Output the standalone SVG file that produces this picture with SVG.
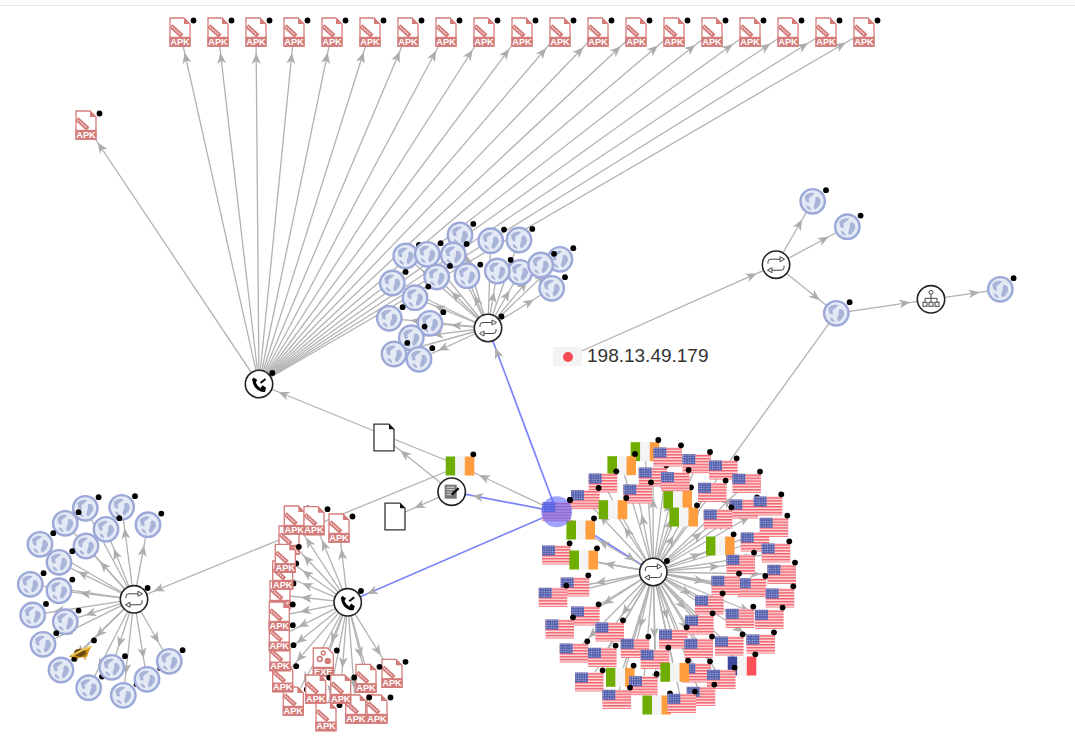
<svg xmlns="http://www.w3.org/2000/svg" width="1075" height="755" viewBox="0 0 1075 755">
<style>
text{font-family:"Liberation Sans",Arial,sans-serif}
.t{font-size:9.2px;font-weight:700;fill:#fff;text-anchor:middle}
.dot{fill:#000}
.ring{fill:#fff;stroke:#222;stroke-width:1.6}
.ic{fill:none;stroke:#444;stroke-width:1}
#edges path{fill:none;stroke:#b2b2b2;stroke-width:1.3;marker-end:url(#ah)}
#edges path.b{stroke:#7a84fa;stroke-width:1.7}
#edges path.n{marker-end:none}
</style>
<defs>
<filter id="soft" x="-20%" y="-20%" width="140%" height="140%"><feGaussianBlur stdDeviation=".45"/></filter>
<marker id="ah" markerUnits="userSpaceOnUse" markerWidth="12" markerHeight="10" refX="21" refY="0" orient="auto" overflow="visible"><path d="M0 0L-11 -4.5 -8 0 -11 4.5Z" fill="#adadad"/></marker>
<pattern id="stripes" width="4" height="2.9" patternUnits="userSpaceOnUse"><rect width="4" height="2.9" fill="#fbdfe1"/><rect width="4" height="1.5" fill="#f4606b"/></pattern>
<pattern id="stars" width="2.4" height="2.4" patternUnits="userSpaceOnUse"><rect width="2.4" height="2.4" fill="#5560ad"/><circle cx="1.2" cy="1.2" r=".65" fill="#b6bce2"/></pattern>
<g id="apk"><path d="M-10 -14H4L10 -8V14H-10Z" fill="#fff" stroke="#d47c7a" stroke-width="1.3"/><path d="M4 -14V-8H10Z" fill="#d47c7a"/><rect x="-10.6" y="4.8" width="21.2" height="9.9" fill="#d47c7a"/><path d="M-9 -6L2 4" stroke="#d47c7a" stroke-width="4.5" fill="none"/><path d="M-8 -5L1 3" stroke="#fff" stroke-width="1.1" stroke-dasharray="1.3 1.1" fill="none"/><circle class="dot" cx="13.5" cy="-11.5" r="2.9"/></g>
<g id="exe"><path d="M-10 -14H4L10 -8V14H-10Z" fill="#fff" stroke="#d47c7a" stroke-width="1.3"/><rect x="-10.6" y="4.8" width="21.2" height="9.9" fill="#d47c7a"/><circle cx="-3.5" cy="-3" r="2.4" fill="none" stroke="#d47c7a" stroke-width="1.6"/><circle cx="4.5" cy="-1" r="3.2" fill="#d47c7a"/><circle cx="0" cy="-9" r="2" fill="none" stroke="#d47c7a" stroke-width="1.4"/><circle class="dot" cx="13.5" cy="-11.5" r="2.9"/></g>
<g id="globe"><g filter="url(#soft)"><circle r="12.2" fill="#e4e9f6" stroke="#9ca8d8" stroke-width="2.4"/><path d="M-8 -5C-5 -9 0 -9 2 -8 0 -5 -3 -5 -4 -2 -2 2 -5 2 -7 0ZM3 -4C6 -5 8 -3 8 1 7 3 6 6 3 8 0 8 1 4 2 2 3 0 2 -2 3 -4ZM-6 4C-3 5 -1 8 -2 9 -5 8 -7 6 -6 4Z" fill="#a8b5d8"/></g><circle class="dot" cx="13.3" cy="-11.1" r="2.9"/></g>
<g id="us"><rect x="-14.3" y="-9.5" width="28.6" height="19" fill="url(#stripes)"/><rect x="-14.3" y="-9.5" width="13" height="10" fill="url(#stars)"/><circle class="dot" cx="13.3" cy="-11.7" r="2.9"/></g>
<g id="ie"><rect x="-14.3" y="-9.5" width="9.6" height="19" fill="#6fae00"/><rect x="-4.7" y="-9.5" width="9.5" height="19" fill="#f4f4f4"/><rect x="4.8" y="-9.5" width="9.5" height="19" fill="#ff9d3f"/><circle class="dot" cx="13.3" cy="-11.7" r="2.9"/></g>
<g id="fr"><rect x="-14.3" y="-9.5" width="9.6" height="19" fill="#3f4a9e"/><rect x="-4.7" y="-9.5" width="9.5" height="19" fill="#f4f4f4"/><rect x="4.8" y="-9.5" width="9.5" height="19" fill="#ff4f59"/><circle class="dot" cx="13.3" cy="-11.7" r="2.9"/></g>
<g id="sw"><circle class="ring" r="13.7"/><path class="ic" d="M-8 -1V-3Q-8 -5.5 -5 -5.5H4M8 1V3Q8 5.5 5 5.5H-4"/><path d="M4 -8L8.5 -5.5 4 -3ZM-4 8L-8.5 5.5 -4 3Z" fill="#fff" stroke="#444"/></g>
<g id="ph"><circle class="ring" r="13.7"/><path d="M-5 -4C-5 1.5 -0.5 6.5 5 6.5" fill="none" stroke="#000" stroke-width="3" stroke-linecap="round"/><path d="M-6.2 -5.2L-2.6 -2.6M2.6 2.6L6.4 5.4" stroke="#000" stroke-width="3.2" fill="none"/><path d="M1.5 -1L6.5 -5" stroke="#000" stroke-width="2"/></g>
<g id="note"><circle class="ring" r="13.7"/><rect x="-7" y="-7" width="12" height="14" fill="#777"/><path d="M-5 -4.5H3M-5 -2H3M-5 .5H1M-5 3H0" stroke="#ddd" stroke-width="1"/><path d="M0 3L7 -3.5" stroke="#111" stroke-width="2.4"/></g>
<g id="org"><circle class="ring" r="13.7"/><path class="ic" d="M0 -5V-1M-6 3V-1H6V3M0 -1V3"/><circle class="ic" cy="-7" r="2"/><rect class="ic" x="-8" y="3" width="4" height="4"/><rect class="ic" x="-2" y="3" width="4" height="4"/><rect class="ic" x="4" y="3" width="4" height="4"/></g>
<g id="doc"><path d="M-10 -13.3H5L10 -8.3V13.3H-10Z" fill="#fff" stroke="#333" stroke-width="1.3"/><path d="M5 -13.3V-8.3H10Z" fill="#111"/></g>
</defs>
<rect width="1075" height="755" fill="#fff"/>
<path d="M0 5.5H1075" stroke="#e8e8e8" stroke-width="1.2"/>
<g id="edges">
<path d="M259 384L86 125"/><path d="M259 384L180 32"/><path d="M259 384L218 32"/><path d="M259 384L256 32"/><path d="M259 384L294 32"/><path d="M259 384L332 32"/><path d="M259 384L370 32"/><path d="M259 384L408 32"/><path d="M259 384L446 32"/><path d="M259 384L484 32"/><path d="M259 384L522 32"/><path d="M259 384L560 32"/><path d="M259 384L598 32"/><path d="M259 384L636 32"/><path d="M259 384L674 32"/><path d="M259 384L712 32"/><path d="M259 384L750 32"/><path d="M259 384L788 32"/><path d="M259 384L826 32"/><path d="M259 384L864 32"/>
<path d="M488 328L460 235"/><path d="M488 328L490.7 240.7"/><path d="M488 328L519 240"/><path d="M488 328L405.7 256"/><path d="M488 328L427.3 254.3"/><path d="M488 328L453.3 255"/><path d="M488 328L560 259.3"/><path d="M488 328L540.7 265"/><path d="M488 328L497.3 271"/><path d="M488 328L520 272.3"/><path d="M488 328L436.7 277"/><path d="M488 328L467 275.7"/><path d="M488 328L392.3 283"/><path d="M488 328L551.7 288.3"/><path d="M488 328L415 297.7"/><path d="M488 328L389.3 318.3"/><path d="M488 328L430 323.3"/><path d="M488 328L411.3 337.7"/><path d="M488 328L394 354"/><path d="M488 328L419 359.3"/>
<path d="M568 357L776 265"/><path d="M776 265L812.7 201.3"/><path d="M776 265L847.3 226.7"/><path d="M776 265L836.3 313.3"/><path d="M836.3 313.3L931 299.3"/><path d="M931 299.3L1000.3 289.3"/><path class="n" d="M723.3 470L836.3 313.3"/>
<path class="b" d="M556.7 511.7L488 328"/><path class="b" d="M556.7 511.7L451.7 491.7"/><path class="b" d="M556.7 511.7L347.7 602.3"/><path class="b" d="M556.7 511.7L653.3 572"/><path d="M556.7 511.7L460 466"/>
<path d="M460 466L259 384"/><path d="M460 466L134 599.3"/><path d="M451.7 491.7L384 437.5"/><path d="M451.7 491.7L395 516.5"/>
<path d="M347.7 602.3L294.3 520"/><path d="M347.7 602.3L314 520.7"/><path d="M347.7 602.3L339 528"/><path d="M347.7 602.3L289 540"/><path d="M347.7 602.3L285.3 558.3"/><path d="M347.7 602.3L282.7 575"/><path d="M347.7 602.3L280 595"/><path d="M347.7 602.3L279.3 616"/><path d="M347.7 602.3L279.3 636.7"/><path d="M347.7 602.3L280 656.7"/><path d="M347.7 602.3L282.7 677.7"/><path d="M347.7 602.3L293.3 701"/><path d="M347.7 602.3L323.3 662"/><path d="M347.7 602.3L315.7 689"/><path d="M347.7 602.3L340.7 689"/><path d="M347.7 602.3L326 716.7"/><path d="M347.7 602.3L366 678.3"/><path d="M347.7 602.3L392 673.3"/><path d="M347.7 602.3L355.7 709"/><path d="M347.7 602.3L377 709"/>
<path d="M134 599.3L85.3 508.3"/><path d="M134 599.3L121.7 507.3"/><path d="M134 599.3L148 524.7"/><path d="M134 599.3L65.3 523.3"/><path d="M134 599.3L106 529.3"/><path d="M134 599.3L40 544.3"/><path d="M134 599.3L86 546"/><path d="M134 599.3L59 562.3"/><path d="M134 599.3L30.3 584.3"/><path d="M134 599.3L59 590.7"/><path d="M134 599.3L32.7 615"/><path d="M134 599.3L65.3 621.7"/><path d="M134 599.3L43 644.3"/><path d="M134 599.3L61 670"/><path d="M134 599.3L81 651.7"/><path d="M134 599.3L88.7 687.7"/><path d="M134 599.3L111.7 667.3"/><path d="M134 599.3L123.3 695.3"/><path d="M134 599.3L147 679.3"/><path d="M134 599.3L169.3 661.3"/>
<path d="M653.3 572L667.7 457"/><path d="M653.3 572L696.7 463.7"/><path d="M653.3 572L723.3 470"/><path d="M653.3 572L746.7 483.3"/><path d="M653.3 572L653 477"/><path d="M653.3 572L675.3 481.7"/><path d="M653.3 572L712.3 492.3"/><path d="M653.3 572L603 483"/><path d="M653.3 572L585.3 499.7"/><path d="M653.3 572L637.7 494"/><path d="M653.3 572L743.7 509"/><path d="M653.3 572L768 506"/><path d="M653.3 572L718 519"/><path d="M653.3 572L774 527.3"/><path d="M653.3 572L755 542"/><path d="M653.3 572L776 553"/><path d="M653.3 572L740.7 564.3"/><path d="M653.3 572L781.7 574.3"/><path d="M653.3 572L725.7 585.3"/><path d="M653.3 572L752 587.7"/><path d="M653.3 572L780 598"/><path d="M653.3 572L709.3 605"/><path d="M653.3 572L740 618.3"/><path d="M653.3 572L769.3 619.3"/><path d="M653.3 572L699.3 625"/><path d="M653.3 572L729.3 646"/><path d="M653.3 572L760.7 644"/><path d="M653.3 572L673.3 639"/><path d="M653.3 572L698.7 648.3"/><path d="M653.3 572L635 648.3"/><path d="M653.3 572L609.7 632"/><path d="M653.3 572L585.3 616"/><path d="M653.3 572L559.7 629"/><path d="M653.3 572L553 597.3"/><path d="M653.3 572L575 587"/><path d="M653.3 572L556.3 555"/><path d="M653.3 572L574 653"/><path d="M653.3 572L602.3 657.3"/><path d="M653.3 572L655 659.3"/><path d="M653.3 572L696.7 673"/><path d="M653.3 572L721.3 679.3"/><path d="M653.3 572L589.3 682"/><path d="M653.3 572L643.3 685.7"/><path d="M653.3 572L616.7 699.3"/><path d="M653.3 572L681.7 703.3"/><path d="M653.3 572L701 696.3"/>
<path d="M653.3 572L645 451.7"/><path d="M653.3 572L621.7 465.7"/><path d="M653.3 572L613 509.7"/><path d="M653.3 572L677.7 499"/><path d="M653.3 572L683.7 517"/><path d="M653.3 572L580.7 530"/><path d="M653.3 572L583.7 560"/><path d="M653.3 572L720.3 546"/><path d="M653.3 572L620.3 677.3"/><path d="M653.3 572L674.7 672.3"/><path d="M653.3 572L656.7 705"/><path d="M653.3 572L742 666"/>
</g>
<g id="top-apks">
<g id="a0" transform="translate(86 125)"><use href="#apk"/><text class="t" y="12.6">APK</text></g>
<g id="a1" transform="translate(180 32)"><use href="#apk"/><text class="t" y="12.6">APK</text></g>
<g id="a2" transform="translate(218 32)"><use href="#apk"/><text class="t" y="12.6">APK</text></g>
<g id="a3" transform="translate(256 32)"><use href="#apk"/><text class="t" y="12.6">APK</text></g>
<g id="a4" transform="translate(294 32)"><use href="#apk"/><text class="t" y="12.6">APK</text></g>
<g id="a5" transform="translate(332 32)"><use href="#apk"/><text class="t" y="12.6">APK</text></g>
<g id="a6" transform="translate(370 32)"><use href="#apk"/><text class="t" y="12.6">APK</text></g>
<g id="a7" transform="translate(408 32)"><use href="#apk"/><text class="t" y="12.6">APK</text></g>
<g id="a8" transform="translate(446 32)"><use href="#apk"/><text class="t" y="12.6">APK</text></g>
<g id="a9" transform="translate(484 32)"><use href="#apk"/><text class="t" y="12.6">APK</text></g>
<g id="a10" transform="translate(522 32)"><use href="#apk"/><text class="t" y="12.6">APK</text></g>
<g id="a11" transform="translate(560 32)"><use href="#apk"/><text class="t" y="12.6">APK</text></g>
<g id="a12" transform="translate(598 32)"><use href="#apk"/><text class="t" y="12.6">APK</text></g>
<g id="a13" transform="translate(636 32)"><use href="#apk"/><text class="t" y="12.6">APK</text></g>
<g id="a14" transform="translate(674 32)"><use href="#apk"/><text class="t" y="12.6">APK</text></g>
<g id="a15" transform="translate(712 32)"><use href="#apk"/><text class="t" y="12.6">APK</text></g>
<g id="a16" transform="translate(750 32)"><use href="#apk"/><text class="t" y="12.6">APK</text></g>
<g id="a17" transform="translate(788 32)"><use href="#apk"/><text class="t" y="12.6">APK</text></g>
<g id="a18" transform="translate(826 32)"><use href="#apk"/><text class="t" y="12.6">APK</text></g>
<g id="a19" transform="translate(864 32)"><use href="#apk"/><text class="t" y="12.6">APK</text></g>
</g>
<g id="phone1" transform="translate(259 384)"><use href="#ph"/><circle class="dot" cx="13.3" cy="-11" r="2.9"/></g>
<g id="gtop">
<use id="g1" href="#globe" x="460" y="235"/><use id="g2" href="#globe" x="490.7" y="240.7"/><use id="g3" href="#globe" x="519" y="240"/><use id="g7" href="#globe" x="560" y="259.3"/><use id="g6" href="#globe" x="453.3" y="255"/><use id="g4" href="#globe" x="405.7" y="256"/><use id="g5" href="#globe" x="427.3" y="254.3"/><use id="g10" href="#globe" x="520" y="272.3"/><use id="g8" href="#globe" x="540.7" y="265"/><use id="g9" href="#globe" x="497.3" y="271"/><use id="g11" href="#globe" x="436.7" y="277"/><use id="g12" href="#globe" x="467" y="275.7"/><use id="g13" href="#globe" x="392.3" y="283"/><use id="g14" href="#globe" x="551.7" y="288.3"/><use id="g15" href="#globe" x="415" y="297.7"/><use id="g16" href="#globe" x="389.3" y="318.3"/><use id="g17" href="#globe" x="430" y="323.3"/><use id="g18" href="#globe" x="411.3" y="337.7"/><use id="g19" href="#globe" x="394" y="354"/><use id="g20" href="#globe" x="419" y="359.3"/>
</g>
<g id="sw1" transform="translate(488 328)"><use href="#sw"/><circle class="dot" cx="13.5" cy="-11.5" r="2.9"/></g>
<use id="sw2" href="#sw" x="776" y="264.7"/>
<use id="ga" href="#globe" x="812.7" y="201.3"/><use id="gb" href="#globe" x="847.3" y="226.7"/><use id="gc" href="#globe" x="836.3" y="313.3"/><use id="gd" href="#globe" x="1000.3" y="289.3"/>
<use id="org1" href="#org" x="931" y="299.3"/>
<g id="ip"><rect x="553" y="347" width="29" height="19" fill="#f3f3f3"/><circle cx="568" cy="357" r="5" fill="#f54a55"/><text x="587" y="362" font-size="19" fill="#333">198.13.49.179</text></g>
<use id="doc1" href="#doc" x="384" y="437.5"/><use id="doc2" href="#doc" x="395" y="516.5"/>
<use id="ie0" href="#ie" x="460" y="466"/>
<use id="note1" href="#note" x="451.7" y="491.7"/>
<g id="gleft">
<use id="h1" href="#globe" x="85.3" y="508.3"/><use id="h2" href="#globe" x="121.7" y="507.3"/><use id="h3" href="#globe" x="148" y="524.7"/><use id="h4" href="#globe" x="65.3" y="523.3"/><use id="h5" href="#globe" x="86" y="546"/><use id="h6" href="#globe" x="106" y="529.3"/><use id="h7" href="#globe" x="40" y="544.3"/><use id="h8" href="#globe" x="59" y="562.3"/><use id="h9" href="#globe" x="30.3" y="584.3"/><use id="h10" href="#globe" x="59" y="590.7"/><use id="h11" href="#globe" x="32.7" y="615"/><use id="h12" href="#globe" x="65.3" y="621.7"/><use id="h13" href="#globe" x="43" y="644.3"/><use id="h14" href="#globe" x="61" y="670"/><use id="h15" href="#globe" x="88.7" y="687.7"/><use id="h16" href="#globe" x="111.7" y="667.3"/><use id="h17" href="#globe" x="123.3" y="695.3"/><use id="h18" href="#globe" x="147" y="679.3"/><use id="h19" href="#globe" x="169.3" y="661.3"/>
</g>
<g id="bee" transform="translate(81 651.7)"><path d="M-12 5L-4 -1 4 -3 11 -6 8 -1 6 5 -2 6Z" fill="#c98a12"/><ellipse cx="-1" cy="1" rx="6" ry="4" fill="#6b4a10"/><path d="M-9 4L2 -2 10 -5" stroke="#f2cc5c" stroke-width="2" fill="none"/><path d="M2 4L5 8M-3 5L-4 8" stroke="#c98a12" stroke-width="1.2"/><circle class="dot" cx="13" cy="-11.3" r="2.9"/></g>
<g id="sw4" transform="translate(134 599.3)"><use href="#sw"/><circle class="dot" cx="13.6" cy="-11.3" r="2.9"/></g>
<g id="apks2">
<g id="b12" transform="translate(293.3 701)"><use href="#apk"/><text class="t" y="12.6">APK</text></g>
<g id="b11" transform="translate(282.7 677.7)"><use href="#apk"/><text class="t" y="12.6">APK</text></g>
<g id="b10" transform="translate(280 656.7)"><use href="#apk"/><text class="t" y="12.6">APK</text></g>
<g id="b9" transform="translate(279.3 636.7)"><use href="#apk"/><text class="t" y="12.6">APK</text></g>
<g id="b7" transform="translate(280 595)"><use href="#apk"/><text class="t" y="12.6">APK</text></g>
<g id="b8" transform="translate(279.3 616)"><use href="#apk"/><text class="t" y="12.6">APK</text></g>
<g id="b5" transform="translate(282.7 575)"><use href="#apk"/><text class="t" y="12.6">APK</text></g>
<g id="b1" transform="translate(289 540)"><use href="#apk"/><text class="t" y="12.6">APK</text></g>
<g id="b6" transform="translate(285.3 558.3)"><use href="#apk"/><text class="t" y="12.6">APK</text></g>
<g id="b2" transform="translate(294.3 520)"><use href="#apk"/><text class="t" y="12.6">APK</text></g>
<g id="b3" transform="translate(314 520.7)"><use href="#apk"/><text class="t" y="12.6">APK</text></g>
<g id="b4" transform="translate(339 528)"><use href="#apk"/><text class="t" y="12.6">APK</text></g>
<g id="b13" transform="translate(323.3 662)"><use href="#exe"/><text class="t" y="12.6">EXE</text></g>
<g id="b14" transform="translate(392 673.3)"><use href="#apk"/><text class="t" y="12.6">APK</text></g>
<g id="b15" transform="translate(377 709)"><use href="#apk"/><text class="t" y="12.6">APK</text></g>
<g id="b16" transform="translate(366 678.3)"><use href="#apk"/><text class="t" y="12.6">APK</text></g>
<g id="b17" transform="translate(355.7 709)"><use href="#apk"/><text class="t" y="12.6">APK</text></g>
<g id="b18" transform="translate(326 716.7)"><use href="#apk"/><text class="t" y="12.6">APK</text></g>
<g id="b19" transform="translate(315.7 689)"><use href="#apk"/><text class="t" y="12.6">APK</text></g>
<g id="b20" transform="translate(340.7 689)"><use href="#apk"/><text class="t" y="12.6">APK</text></g>
</g>
<g id="phone2" transform="translate(347.7 602.3)"><use href="#ph"/><circle class="dot" cx="13.3" cy="-11.3" r="2.9"/></g>
<g id="flags">
<use id="ia" href="#ie" x="645" y="451.7"/><use id="ib" href="#ie" x="621.7" y="465.7"/>
<use id="u5" href="#us" x="653" y="477"/><use id="u1" href="#us" x="667.7" y="457"/><use id="u2" href="#us" x="696.7" y="463.7"/><use id="u3" href="#us" x="723.3" y="470"/><use id="u4" href="#us" x="746.7" y="483.3"/><use id="u8" href="#us" x="603" y="483"/><use id="u9" href="#us" x="585.3" y="499.7"/><use id="id" href="#ie" x="677.7" y="499"/><use id="u6" href="#us" x="675.3" y="481.7"/><use id="u7" href="#us" x="712.3" y="492.3"/><use id="u10" href="#us" x="637.7" y="494"/><use id="u11" href="#us" x="743.7" y="509"/><use id="u12" href="#us" x="768" y="506"/><use id="ic" href="#ie" x="613" y="509.7"/><use id="ie1" href="#ie" x="683.7" y="517"/><use id="u13" href="#us" x="718" y="519"/><use id="u15" href="#us" x="755" y="542"/><use id="u14" href="#us" x="774" y="527.3"/><use id="if" href="#ie" x="580.7" y="530"/><use id="ih" href="#ie" x="720.3" y="546"/><use id="u16" href="#us" x="776" y="553"/><use id="u36" href="#us" x="556.3" y="555"/><use id="ig" href="#ie" x="583.7" y="560"/><use id="u17" href="#us" x="740.7" y="564.3"/><use id="u18" href="#us" x="781.7" y="574.3"/><use id="u20" href="#us" x="752" y="587.7"/><use id="u19" href="#us" x="725.7" y="585.3"/><use id="u35" href="#us" x="575" y="587"/><use id="u34" href="#us" x="553" y="597.3"/><use id="u21" href="#us" x="780" y="598"/><use id="u24" href="#us" x="769.3" y="619.3"/><use id="u22" href="#us" x="709.3" y="605"/><use id="u23" href="#us" x="740" y="618.3"/><use id="u32" href="#us" x="585.3" y="616"/><use id="u33" href="#us" x="559.7" y="629"/><use id="u31" href="#us" x="609.7" y="632"/><use id="u25" href="#us" x="699.3" y="625"/><use id="u28" href="#us" x="673.3" y="639"/><use id="u27" href="#us" x="760.7" y="644"/><use id="u26" href="#us" x="729.3" y="646"/><use id="u29" href="#us" x="698.7" y="648.3"/><use id="u30" href="#us" x="635" y="648.3"/><use id="u37" href="#us" x="574" y="653"/><use id="u38" href="#us" x="602.3" y="657.3"/><use id="u39" href="#us" x="655" y="659.3"/><use id="fr1" href="#fr" x="742" y="666"/><use id="u40" href="#us" x="696.7" y="673"/><use id="ij" href="#ie" x="674.7" y="672.3"/><use id="ii" href="#ie" x="620.3" y="677.3"/><use id="u41" href="#us" x="721.3" y="679.3"/><use id="u42" href="#us" x="589.3" y="682"/><use id="u43" href="#us" x="643.3" y="685.7"/><use id="u46" href="#us" x="701" y="696.3"/><use id="u44" href="#us" x="616.7" y="699.3"/><use id="ik" href="#ie" x="656.7" y="705"/><use id="u45" href="#us" x="681.7" y="703.3"/>
</g>
<g id="sw3" transform="translate(653.3 572)"><use href="#sw"/><circle class="dot" cx="13.6" cy="-11" r="2.9"/></g>
<g id="center" transform="translate(556.7 511.7)"><use href="#us"/><circle r="15.5" fill="#5c66ff" fill-opacity=".6"/><circle class="dot" cx="13.3" cy="-11.7" r="2.9"/></g>
</svg>
